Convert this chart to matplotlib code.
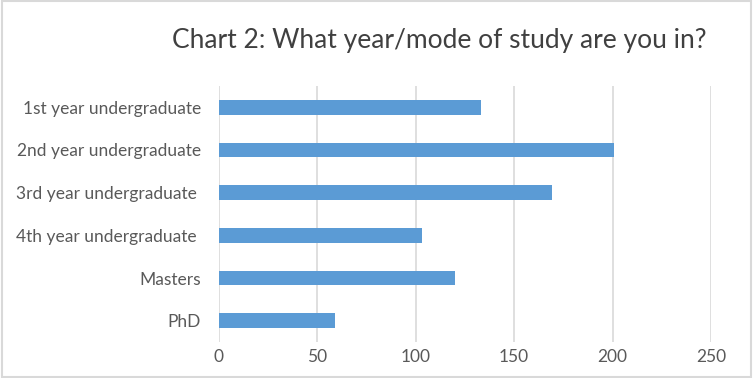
import matplotlib
matplotlib.use("Agg")
import matplotlib.pyplot as plt
from matplotlib.patches import Rectangle

categories = ["1st year undergraduate", "2nd year undergraduate", "3rd year undergraduate ",
              "4th year undergraduate ", "Masters", "PhD"]
counts = [133, 201, 169, 103, 120, 59]
xticks = [0, 50, 100, 150, 200, 250]
title = "Chart 2: What year/mode of study are you in?"

plt.rcParams["font.family"] = ["Lato", "DejaVu Sans"]

fig = plt.figure(figsize=(7.53, 3.78), dpi=100)
ax = fig.add_axes([0.2908, 0.0952, 0.6533, 0.6773])

y = list(range(len(categories)))[::-1]
ax.barh(y, counts, height=0.35, color="#5B9BD5", zorder=3)

ax.set_xlim(0, 250)
ax.set_ylim(-0.5, len(categories) - 0.5)
ax.set_xticks(xticks)
ax.set_xticklabels([str(t) for t in xticks])
ax.set_yticks(y)
ax.set_yticklabels(categories)
ax.tick_params(axis="both", length=0, labelsize=12.5, colors="#595959")
ax.tick_params(axis="y", pad=13)
ax.tick_params(axis="x", pad=5)
ax.grid(axis="x", color="#D9D9D9", linewidth=1.2, zorder=0)
for s in ax.spines.values():
    s.set_visible(False)

fig.text(0.583, 0.893, title, ha="center", va="center", fontsize=19, color="#404040")

# outer chart border
fig.patches.append(Rectangle((0.002, 0.003), 0.996, 0.994, transform=fig.transFigure,
                             fill=False, edgecolor="#D9D9D9", linewidth=1.5))

fig.savefig("out.png", dpi=100)
